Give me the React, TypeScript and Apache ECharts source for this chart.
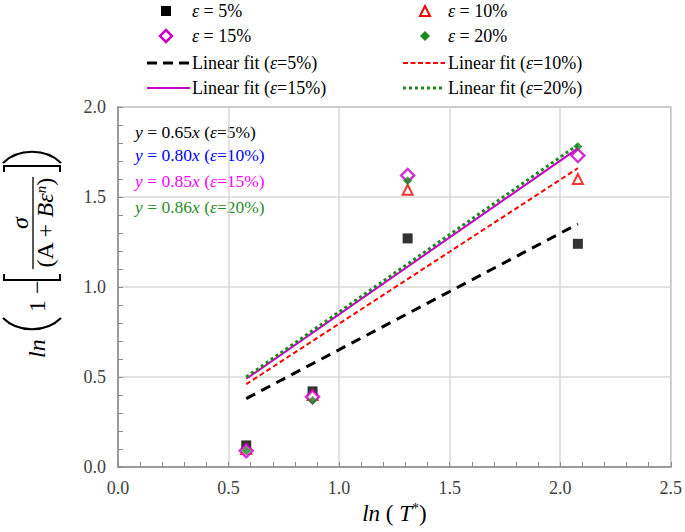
import React, { useEffect, useRef } from "react";
import * as echarts from "echarts";

const lnT = [0.58, 0.88, 1.31, 2.08];
const eps5 = [0.12, 0.42, 1.27, 1.24];
const eps10 = [0.1, 0.4, 1.54, 1.6];
const eps15 = [0.09, 0.39, 1.62, 1.73];
const eps20 = [0.09, 0.37, 1.59, 1.78];
const fitX = [0.58, 2.08];
const fit5 = [0.38, 1.35];
const fit10 = [0.46, 1.66];
const fit15 = [0.49, 1.77];
const fit20 = [0.5, 1.79];
const fitLabels = [
  "{i|y} = 0.65{i|x} ({i|ε}=5%)",
  "{i|y} = 0.80{i|x} ({i|ε}=10%)",
  "{i|y} = 0.85{i|x} ({i|ε}=15%)",
  "{i|y} = 0.86{i|x} ({i|ε}=20%)",
];
const legendScatter = ["{i|ε} = 5%", "{i|ε} = 10%", "{i|ε} = 15%", "{i|ε} = 20%"];
const legendFit = [
  "Linear fit ({i|ε}=5%)",
  "Linear fit ({i|ε}=10%)",
  "Linear fit ({i|ε}=15%)",
  "Linear fit ({i|ε}=20%)",
];

const FAM = "Liberation Serif";
const MAG = "#C800C8";
const GREEN = "#1a8a1a";

function txt(x: number, y: number, text: string, size: number, color: string, align = "left", extra: any = {}) {
  return {
    type: "text",
    x,
    y,
    style: {
      text,
      fontSize: size,
      fontFamily: FAM,
      fill: color,
      align,
      verticalAlign: "middle",
      rich: {
        i: { fontStyle: "italic", fontSize: size, fontFamily: FAM, fill: color },
        s: { fontStyle: "italic", fontSize: Math.round(size * 0.62), fontFamily: FAM, fill: color, verticalAlign: "top" },
      },
      ...extra,
    },
  };
}

const blk = { stroke: "#000", lineWidth: 2, fill: null as any };

export default function App() {
  const ref = useRef<HTMLDivElement>(null);
  useEffect(() => {
    if (!ref.current) return;
    const chart = echarts.init(ref.current, null, { renderer: "svg" });
    const axisColor = "#8c8c8c";
    const pts = (ys: number[]) => lnT.map((x, i) => [x, ys[i]]);
    const fit = (ys: number[]) => fitX.map((x, i) => [x, ys[i]]);
    const annColors = ["#000000", "#0000FF", "#FF00FF", "#2E8B2E"];
    const annY = [132, 155, 181, 207];

    const graphic: any[] = [];
    // legend symbols
    graphic.push({ type: "rect", shape: { x: 161, y: 6, width: 10, height: 10 }, style: { fill: "#000" } });
    graphic.push({ type: "polygon", shape: { points: [[425, 6], [420, 16], [430, 16]] }, style: { fill: "#fff", stroke: "#FF0000", lineWidth: 2 } });
    graphic.push({ type: "polygon", shape: { points: [[166, 30], [172, 36], [166, 42], [160, 36]] }, style: { fill: "#fff", stroke: MAG, lineWidth: 2.5 } });
    graphic.push({ type: "polygon", shape: { points: [[425, 31], [430, 36], [425, 41], [420, 36]] }, style: { fill: GREEN } });
    graphic.push({ type: "line", shape: { x1: 147, y1: 63, x2: 190, y2: 63 }, style: { stroke: "#000", lineWidth: 3, lineDash: [10, 6] } });
    graphic.push({ type: "line", shape: { x1: 403, y1: 63, x2: 445, y2: 63 }, style: { stroke: "#FF0000", lineWidth: 2, lineDash: [5, 2.5] } });
    graphic.push({ type: "line", shape: { x1: 147, y1: 88, x2: 190, y2: 88 }, style: { stroke: MAG, lineWidth: 2 } });
    graphic.push({ type: "line", shape: { x1: 403, y1: 88, x2: 445, y2: 88 }, style: { stroke: GREEN, lineWidth: 3, lineDash: [3, 3] } });
    graphic.push(txt(192, 11, legendScatter[0], 18, "#000"));
    graphic.push(txt(448, 11, legendScatter[1], 18, "#000"));
    graphic.push(txt(192, 36, legendScatter[2], 18, "#000"));
    graphic.push(txt(448, 36, legendScatter[3], 18, "#000"));
    graphic.push(txt(192, 63, legendFit[0], 18, "#000"));
    graphic.push(txt(448, 63, legendFit[1], 18, "#000"));
    graphic.push(txt(192, 88, legendFit[2], 18, "#000"));
    graphic.push(txt(448, 88, legendFit[3], 18, "#000"));
    // annotations
    fitLabels.forEach((t, i) => graphic.push(txt(135, annY[i], t, 17.5, annColors[i])));
    // y-axis title (rotated, reads bottom-to-top)
    graphic.push({
      type: "group",
      x: 0,
      y: 358,
      rotation: Math.PI / 2,
      children: [
        txt(0, 37, "{i|ln}", 24, "#000"),
        { type: "bezierCurve", shape: { x1: 40, y1: 3, cpx1: 25, cpy1: 18, cpx2: 25, cpy2: 46, x2: 40, y2: 61 }, style: { ...blk, lineWidth: 2.2 } },
        txt(46, 37, "1 −", 24, "#000"),
        { type: "polyline", shape: { points: [[84, 4], [78, 4], [78, 60], [84, 60]] }, style: blk },
        { type: "line", shape: { x1: 89, y1: 33, x2: 181, y2: 33 }, style: { stroke: "#000", lineWidth: 1.3 } },
        txt(135, 20, "{i|σ}", 24, "#000", "center"),
        txt(135, 45, "(A + {i|Bε}{s|n})", 24, "#000", "center"),
        { type: "polyline", shape: { points: [[186, 4], [192, 4], [192, 60], [186, 60]] }, style: blk },
        { type: "bezierCurve", shape: { x1: 195, y1: 3, cpx1: 210, cpy1: 18, cpx2: 210, cpy2: 46, x2: 195, y2: 61 }, style: { ...blk, lineWidth: 2.2 } },
      ],
    });

    const lab = { fontSize: 18, fontFamily: FAM, color: "#404040" };
    chart.setOption({
      animation: false,
      textStyle: { fontFamily: FAM },
      grid: { left: 118, right: 12, top: 107, bottom: 65, show: true, borderColor: axisColor, borderWidth: 1.5 },
      xAxis: {
        type: "value",
        min: 0,
        max: 2.5,
        interval: 0.5,
        axisLine: { show: true, lineStyle: { color: axisColor, width: 1.5 } },
        axisTick: { show: true, inside: true, length: 5, lineStyle: { color: axisColor } },
        minorTick: { show: true, splitNumber: 5, length: 5, lineStyle: { color: axisColor } },
        splitLine: { show: true, lineStyle: { color: "#d9d9d9", width: 1.5 } },
        axisLabel: { ...lab, margin: 12, formatter: (v: number) => v.toFixed(1) },
        name: "{i|ln} ( {i|T}{s|*})",
        nameLocation: "middle",
        nameGap: 33,
        nameTextStyle: {
          fontSize: 23,
          fontFamily: FAM,
          color: "#000",
          rich: {
            i: { fontStyle: "italic", fontSize: 23, fontFamily: FAM, color: "#000" },
            s: { fontSize: 14, fontFamily: FAM, color: "#000", verticalAlign: "top" },
          },
        },
      },
      yAxis: {
        type: "value",
        min: 0,
        max: 2,
        interval: 0.5,
        axisLine: { show: true, lineStyle: { color: axisColor, width: 1.5 } },
        axisTick: { show: true, inside: true, length: 5, lineStyle: { color: axisColor } },
        minorTick: { show: true, splitNumber: 5, length: 5, lineStyle: { color: axisColor } },
        splitLine: { show: true, lineStyle: { color: "#d9d9d9", width: 1.5 } },
        axisLabel: { ...lab, margin: 12, formatter: (v: number) => v.toFixed(1) },
      },
      series: [
        { name: "Linear fit (ε=5%)", type: "line", data: fit(fit5), symbol: "none", lineStyle: { color: "#000", width: 3, type: [10, 7] } },
        { name: "Linear fit (ε=10%)", type: "line", data: fit(fit10), symbol: "none", lineStyle: { color: "#FF0000", width: 2, type: [5, 3] } },
        { name: "Linear fit (ε=15%)", type: "line", data: fit(fit15), symbol: "none", lineStyle: { color: MAG, width: 2 } },
        { name: "Linear fit (ε=20%)", type: "line", data: fit(fit20), symbol: "none", lineStyle: { color: GREEN, width: 3, type: [3, 3] } },
        { name: "ε = 5%", type: "scatter", data: pts(eps5), symbol: "rect", symbolSize: 10, itemStyle: { color: "#000" } },
        { name: "ε = 10%", type: "scatter", data: pts(eps10), symbol: "triangle", symbolSize: 10, itemStyle: { color: "#fff", borderColor: "#FF0000", borderWidth: 2 } },
        { name: "ε = 15%", type: "scatter", data: pts(eps15), symbol: "diamond", symbolSize: 13, itemStyle: { color: "#fff", borderColor: MAG, borderWidth: 2.5 } },
        { name: "ε = 20%", type: "scatter", data: pts(eps20), symbol: "diamond", symbolSize: 9, itemStyle: { color: GREEN } },
      ],
      graphic,
    });
    return () => chart.dispose();
  }, []);
  return <div ref={ref} style={{ position: "absolute", left: 0, top: 0, width: 685, height: 532 }} />;
}
